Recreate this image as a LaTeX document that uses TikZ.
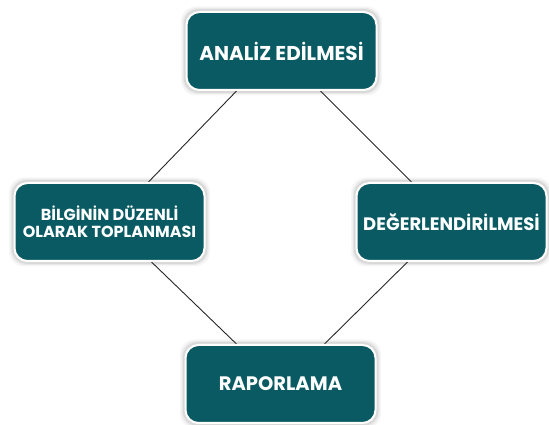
\documentclass[tikz,border=0pt]{standalone}
\usepackage{fontspec}
\setmainfont{Poppins}
\usetikzlibrary{backgrounds}
\definecolor{boxteal}{HTML}{0A5A63}
\begin{document}
\begin{tikzpicture}[x=1pt,y=1pt,
  box/.style={draw=white, line width=2pt, fill=boxteal, rounded corners=13pt,
    minimum width=190pt, minimum height=78pt, inner sep=0pt, text=white,
    align=center, font=\bfseries},
  link/.style={draw=black!85, line width=0.9pt}]
\useasboundingbox (0,0) rectangle (549,425);
\node[box, font=\bfseries\fontsize{20}{22}\selectfont] (nTop) at (281.5,374) {ANALİZ EDİLMESİ};
\node[box, font=\bfseries\fontsize{16}{16.5}\selectfont] (nLeft) at (109.5,203) {BİLGİNİN DÜZENLİ\\OLARAK TOPLANMASI};
\node[box, font=\bfseries\fontsize{18}{20}\selectfont] (nRight) at (451.5,203) {DEĞERLENDİRİLMESİ};
\node[box, font=\bfseries\fontsize{19.5}{22}\selectfont] (nBottom) at (280.5,41) {RAPORLAMA};
\begin{scope}[on background layer]
  \foreach \n in {nTop,nLeft,nRight,nBottom}{
    \foreach \d/\o in {4.5/0.035,3/0.05,1.8/0.07}{
      \fill[black, opacity=\o, rounded corners=15pt]
        ([shift={(-\d,-\d)}]\n.south west) rectangle ([shift={(\d,\d)}]\n.north east);
    }
  }
  \draw[link] ([xshift=51pt]nTop.south west) -- ([xshift=135pt]nLeft.north west);
  \draw[link] ([xshift=-57pt]nTop.south east) -- ([xshift=56pt]nRight.north west);
  \draw[link] ([xshift=138pt]nLeft.south west) -- ([xshift=52pt]nBottom.north west);
  \draw[link] ([xshift=52pt]nRight.south west) -- ([xshift=-52pt]nBottom.north east);
\end{scope}
\end{tikzpicture}
\end{document}
